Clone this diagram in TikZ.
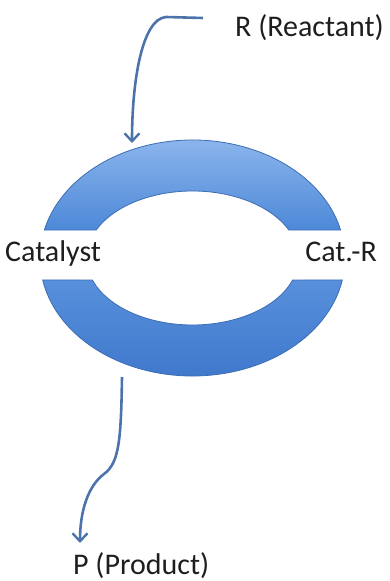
\documentclass[tikz,border=0pt]{standalone}
\usepackage{fontspec}
\setmainfont{Carlito}
\usetikzlibrary{arrows.meta,calc}
\definecolor{arrowblue}{HTML}{4D74AA}
\definecolor{ringtop}{HTML}{93BBEE}
\definecolor{ringmid}{HTML}{4D88D8}
\definecolor{ringlow}{HTML}{3E77CB}
\definecolor{ringedge}{HTML}{3D6DB4}
\definecolor{txt}{HTML}{1E1E1E}
\tikzset{
  lbl/.style={font=\fontsize{30}{34}\selectfont, text=txt, inner sep=0pt},
  flow/.style={draw=arrowblue, line width=2.6pt, -{Straight Barb[length=8pt,width=15pt,line width=2.4pt]}},
  ringpart/.style={draw=ringedge, line width=0.8pt}
}
\begin{document}
\begin{tikzpicture}[x=1pt,y=1pt]
\useasboundingbox (0,0) rectangle (389,581);
\coordinate (C) at (192.5,323);
% upper half of the ring
\path[ringpart, top color=ringtop, bottom color=ringmid]
  ($(C)+(13.7:152.5pt and 118pt)$)
  arc[start angle=13.7, end angle=166.3, x radius=152.5pt, y radius=118pt]
  -- ($(C)+(155.3:106pt and 67pt)$)
  arc[start angle=155.3, end angle=24.7, x radius=106pt, y radius=67pt]
  -- cycle;
% lower half of the ring
\path[ringpart, top color=ringmid!85!ringtop, bottom color=ringlow]
  ($(C)+(190.7:152.5pt and 118pt)$)
  arc[start angle=190.7, end angle=349.3, x radius=152.5pt, y radius=118pt]
  -- ($(C)+(340.8:106pt and 67pt)$)
  arc[start angle=340.8, end angle=199.2, x radius=106pt, y radius=67pt]
  -- cycle;
% labels
\node[lbl, anchor=base west] (R) at (235,544) {R (Reactant)};
\node[lbl, anchor=base west] (cat) at (5,319) {Catalyst};
\node[lbl, anchor=base east] (catr) at (377,319) {Cat.-R};
\node[lbl, anchor=base west] (P) at (73,6) {P (Product)};
% connector end points
\coordinate (rin) at (203,563);
\coordinate (ringtopin) at (132,438);
\coordinate (ringout) at (122,204);
\coordinate (pout) at (80,38);
% arrows
\draw[flow] (rin) -- (166,564) .. controls (142,562) and (132,500) .. (ringtopin);
\draw[flow] (ringout) .. controls (121,140) and (119,118) .. (104,107)
  .. controls (88,95) and (80,70) .. (pout);
\end{tikzpicture}
\end{document}
